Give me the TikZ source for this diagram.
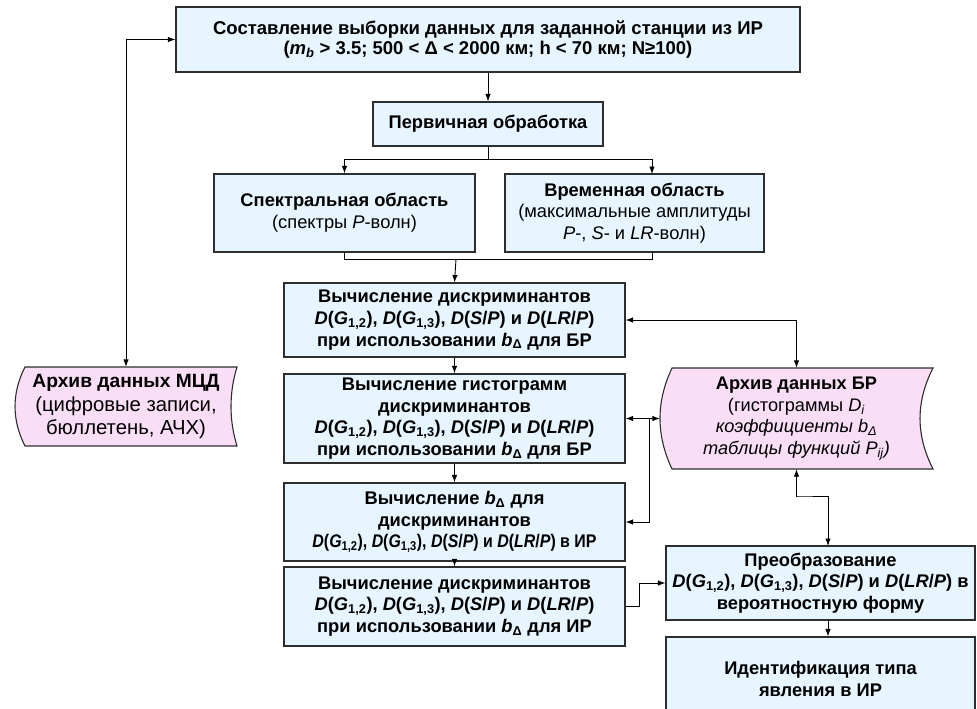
\documentclass[tikz,border=0pt]{standalone}
\usepackage{fontspec}
\usepackage{graphicx}
\setmainfont{Liberation Sans}
\usetikzlibrary{arrows.meta}
\definecolor{boxfill}{RGB}{230,245,255}
\definecolor{pinkfill}{RGB}{250,222,246}
\definecolor{edgecol}{RGB}{45,45,45}
\newcommand{\Dg}[1]{\textit{D}(\textit{G}\textsubscript{#1})}
\newcommand{\Dlist}{\Dg{1,2}, \Dg{1,3}, \textit{D}(\textit{S}/\textit{P}) и \textit{D}(\textit{LR}/\textit{P})}
\newcommand{\bd}{\textit{b}\textsubscript{Δ}}
\begin{document}
\begin{tikzpicture}[x=1pt,y=-1pt,
  box/.style={draw=edgecol, line width=1.1pt, fill=boxfill, align=center, inner sep=1pt,
    font=\bfseries\fontsize{18.3}{21.7}\selectfont},
  archtext/.style={draw=none, align=center, inner sep=1pt},
  archshape/.style={draw=edgecol, line width=1.1pt, fill=pinkfill},
  arr/.style={-{Latex[length=7.5pt,width=5.5pt]}, line width=0.9pt},
  darr/.style={{Latex[length=7.5pt,width=5.5pt]}-{Latex[length=7.5pt,width=5.5pt]}, line width=0.9pt},
  ln/.style={line width=0.9pt}]
\useasboundingbox (0,0) rectangle (977,709);

% boxes
\node[box, minimum width=624pt, minimum height=65pt, font=\bfseries\fontsize{18.5}{19.6}\selectfont] (top) at (488,39.5)
  {Составление выборки данных для заданной станции из ИР\\
   (\textit{m}\textsubscript{\textit{b}} > 3.5; 500 < Δ < 2000 км; h < 70 км; N≥100)};
\node[box, minimum width=230pt, minimum height=44pt] (prim) at (488,124) {Первичная обработка};
\node[box, minimum width=261pt, minimum height=78pt] (spec) at (344.5,213)
  {Спектральная область\\ \mdseries (спектры \textit{P}-волн)};
\node[box, minimum width=259pt, minimum height=78pt] (temp) at (634.5,213)
  {Временная область\\ \mdseries (максимальные амплитуды\\ \mdseries \textit{P}-, \textit{S}- и \textit{LR}-волн)};
\node[box, minimum width=341pt, minimum height=74pt] (b1) at (454.5,320)
  {Вычисление дискриминантов\\ \Dlist\\ при использовании \bd{} для БР};
\node[box, minimum width=341pt, minimum height=89pt] (b2) at (454.5,418.5)
  {Вычисление гистограмм\\ дискриминантов\\ \Dlist\\ при использовании \bd{} для БР};
\node[box, minimum width=341pt, minimum height=78pt] (b3) at (454.5,522)
  {Вычисление \bd{} для\\ дискриминантов\\ \scalebox{0.87}[1]{\Dlist{} в ИР}};
\node[box, minimum width=341pt, minimum height=79pt] (b4) at (454.5,606.5)
  {Вычисление дискриминантов\\ \Dlist\\ при использовании \bd{} для ИР};
\node[box, minimum width=309pt, minimum height=74pt] (prep) at (820.5,583)
  {Преобразование\\ \makebox[0pt][c]{\Dlist{} в}\\ вероятностную форму};
\node[box, minimum width=309pt, minimum height=84pt] (ident) at (820.5,679)
  {Идентификация типа\\ явления в ИР};

% archive shapes
\filldraw[archshape] (25,367) -- (237,367) .. controls (229,393) and (229,420) .. (237,446)
  -- (25,446) .. controls (11.7,420) and (11.7,393) .. (25,367) -- cycle;
\node[archtext, minimum width=222pt, minimum height=79pt, font=\fontsize{20.3}{23.3}\selectfont] (mcd) at (126,406.5)
  {\fontsize{19.2}{23.3}\selectfont\textbf{Архив данных МЦД}\\ (цифровые записи,\\ бюллетень, АЧХ)};
\filldraw[archshape] (672,368) -- (933,368) .. controls (915.7,402) and (915.7,435) .. (933,469)
  -- (672,469) .. controls (656,435) and (656,402) .. (672,368) -- cycle;
\node[archtext, minimum width=273pt, minimum height=101pt, font=\fontsize{18.2}{21.5}\selectfont] (br) at (796.5,418.5)
  {\textbf{Архив данных БР}\\ (гистограммы \textit{D}\textsubscript{\textit{i}}\\
   \textit{коэффициенты b\textsubscript{Δ}}\\ \textit{таблицы функций P\textsubscript{ij})}};

% helper coordinates
\coordinate (split) at (488,159);
\coordinate (tin) at (652,174);
\coordinate (tout) at (652,252);
\coordinate (join) at (456,259);
\coordinate (jn) at (649,419);
\coordinate (pin) at (828,546);
\coordinate (pout) at (828,620);

% connectors
\draw[arr] (top.south) -- (prim.north);
\draw[ln] (prim.south) -- (split);
\draw[arr] (split) -| (spec.north);
\draw[arr] (split) -| (tin);
\draw[ln] (spec.south) |- (join);
\draw[ln] (tout) |- (join);
\draw[arr] (join) -- (b1.north);
\draw[arr] (b1.south) -- (b2.north);
\draw[arr] (b2.south) -- (b3.north);
\draw[arr] (b3.south) -- (b4.north);
\draw[arr] (b4.east) -- ++(14,0) |- (prep.west);
\draw[arr] (pout) -- (ident.north -| pout);
\draw[darr] (top.west) -| (mcd.north);
\draw[darr] (b1.east) -| (br.north);
\draw[darr] (b2.east) -- (br.west);
\draw[arr] (jn) |- (b3.east);
\draw[darr] (br.south) |- (797.5,496) -| (pin);
\end{tikzpicture}
\end{document}
